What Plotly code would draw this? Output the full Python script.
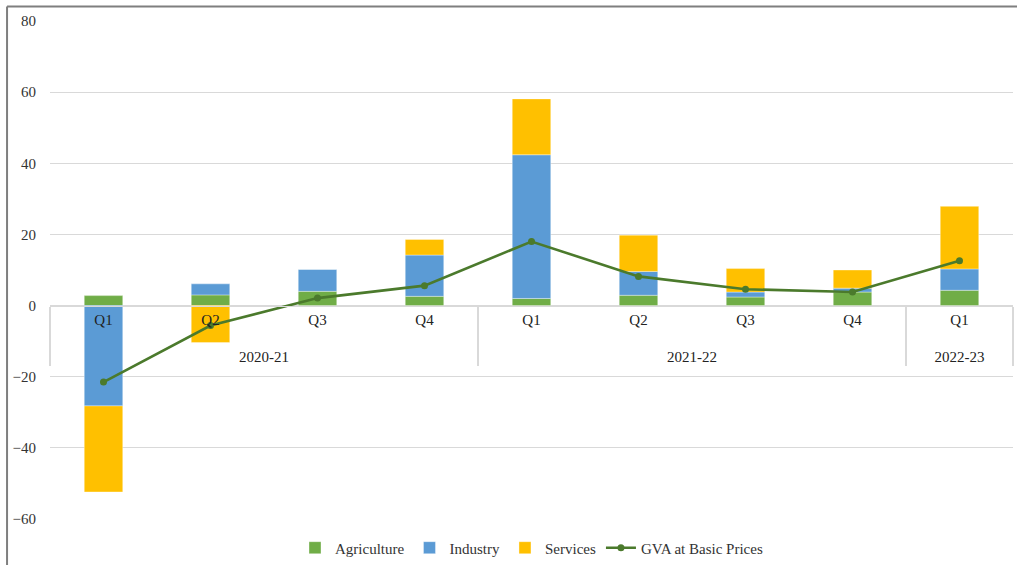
import plotly.graph_objects as go

# Quarterly contributions to GVA growth (per cent)
years = ["2020-21"] * 4 + ["2021-22"] * 4 + ["2022-23"]
quarters = ["Q1", "Q2", "Q3", "Q4", "Q1", "Q2", "Q3", "Q4", "Q1"]

agriculture = [2.8, 3.0, 4.0, 2.6, 2.0, 2.9, 2.4, 3.8, 4.3]
industry = [-28.2, 3.1, 6.2, 11.6, 40.4, 6.7, 1.4, 1.1, 6.0]
services = [-24.2, -10.4, 0.0, 4.4, 15.7, 10.2, 6.6, 5.1, 17.6]
gva = [-21.5, -5.6, 2.1, 5.6, 18.0, 8.2, 4.6, 3.8, 12.6]

# year labels sit one line lower than the quarter labels
x = [["\u00a0<br>" + y for y in years], quarters]
serif = "Liberation Serif, Times New Roman, Times, serif"

fig = go.Figure()
for name, vals, col in [
    ("Agriculture", agriculture, "#70AD47"),
    ("Industry", industry, "#5B9BD5"),
    ("Services", services, "#FFC000"),
]:
    fig.add_trace(go.Bar(
        x=x, y=vals, name=name,
        marker=dict(color=col, line=dict(color="rgba(255,255,255,0.6)", width=0.6)),
        width=0.36,
    ))

fig.add_trace(go.Scatter(
    x=x, y=gva, name="GVA at Basic Prices", mode="lines+markers",
    line=dict(color="#4B7A2C", width=2.6),
    marker=dict(color="#4B7A2C", size=7),
))

ymin, ymax = -60, 80
fig.update_layout(
    width=1017, height=565,
    margin=dict(l=49.5, r=3.5, t=21, b=45.5, autoexpand=False),
    paper_bgcolor="white", plot_bgcolor="white",
    barmode="relative",
    font=dict(family=serif, size=15, color="#222222"),
    showlegend=True,
    legend=dict(orientation="h", x=0.5, xanchor="center", y=-0.025, yanchor="top",
                font=dict(family=serif, size=15, color="#333333"),
                itemwidth=30, traceorder="normal"),
    xaxis=dict(
        type="multicategory", anchor="free",
        position=(0 - ymin) / (ymax - ymin),
        showline=True, linecolor="#D9D9D9", linewidth=1,
        showgrid=False, ticks="outside", ticklen=15, tickcolor="rgba(0,0,0,0)",
        showdividers=True, dividercolor="#D9D9D9", dividerwidth=1.5,
        tickfont=dict(family=serif, size=15, color="#222222"),
    ),
    yaxis=dict(
        range=[ymin, ymax], dtick=20, tick0=0,
        showgrid=True, gridcolor="#D9D9D9", gridwidth=1,
        zeroline=True, zerolinecolor="#D9D9D9", zerolinewidth=1,
        showline=False, ticks="", ticklabelstandoff=13,
        tickfont=dict(family=serif, size=15, color="#333333"),
    ),
    shapes=[
        dict(type="line", xref="paper", yref="paper",
             x0=-43 / 964, x1=1.05, y0=513 / 498.5, y1=513 / 498.5,
             line=dict(color="#7F7F7F", width=2)),
        dict(type="line", xref="paper", yref="paper",
             x0=-43 / 964, x1=-43 / 964, y0=513 / 498.5, y1=-0.2,
             line=dict(color="#7F7F7F", width=2)),
    ],
)

fig.write_html("out.html")
